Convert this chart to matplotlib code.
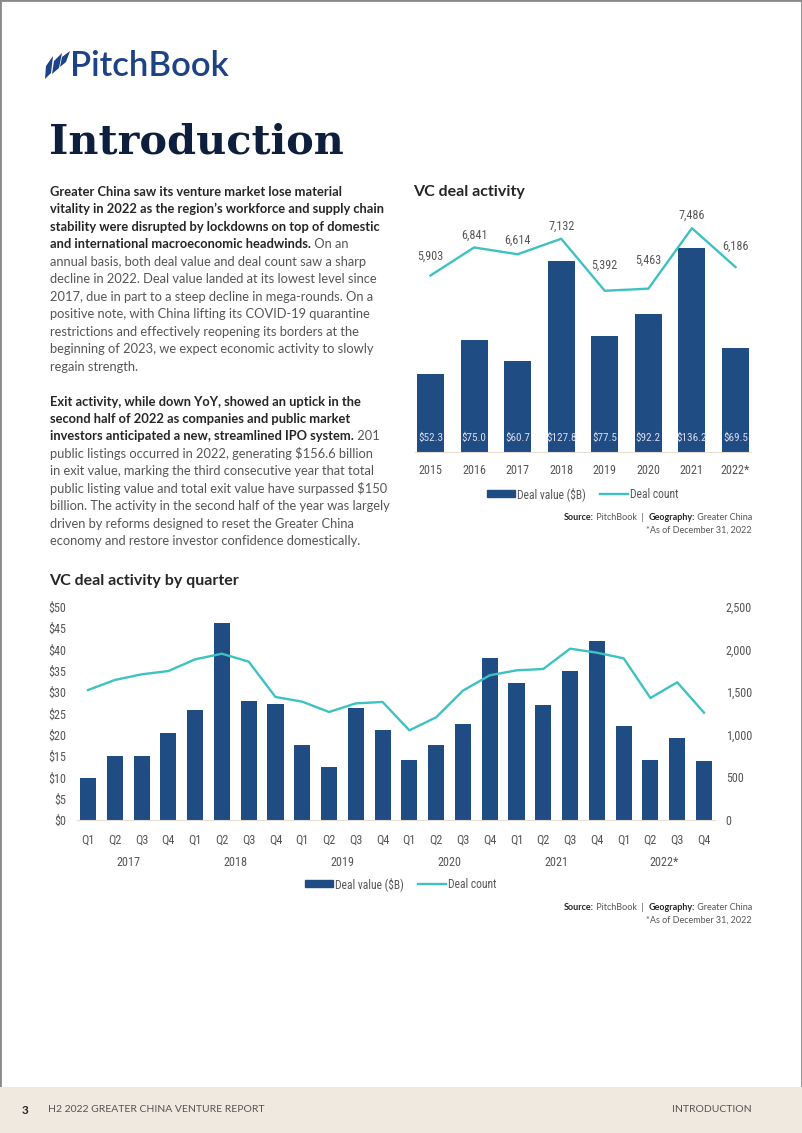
import numpy as np
import matplotlib.pyplot as plt
import matplotlib as mpl
from matplotlib import font_manager
from matplotlib.patches import Rectangle, Polygon
from matplotlib.lines import Line2D
from matplotlib.ticker import FuncFormatter

# ---- data ----
years = ['2015', '2016', '2017', '2018', '2019', '2020', '2021', '2022*']
year_value = [52.3, 75.0, 60.7, 127.8, 77.5, 92.2, 136.2, 69.5]
year_count = [5903, 6841, 6614, 7132, 5392, 5463, 7486, 6186]

quarter_names = ['Q1', 'Q2', 'Q3', 'Q4']
quarter_years = ['2017', '2018', '2019', '2020', '2021', '2022*']
quarter_value = [9.8, 15.1, 15.1, 20.3, 25.9, 46.2, 27.9, 27.3,
                 17.5, 12.5, 26.3, 21.0, 14.0, 17.5, 22.6, 37.9,
                 32.2, 27.0, 34.9, 42.0, 22.1, 14.0, 19.3, 13.9]
quarter_count = [1523, 1641, 1707, 1746, 1883, 1949, 1856, 1442,
                 1387, 1266, 1367, 1383, 1051, 1204, 1516, 1696,
                 1754, 1770, 2008, 1961, 1895, 1430, 1614, 1258]

# label nudges (px) for the annual count labels
count_dy = [19, 12, 14, 12, 26, 28, 13, 21]

W, H = 802, 1133
NAVY = '#1f4c83'
TEAL = '#3ec1c3'
GREY = '#555555'
DARK = '#262626'

names = {f.name for f in font_manager.fontManager.ttflist}
def pick(*cands):
    for c in cands:
        if c in names:
            return c
    return 'DejaVu Sans'

COND = pick('Liberation Sans Narrow', 'DejaVu Sans Condensed', 'Roboto Condensed')
BODY = pick('Lato', 'Open Sans', 'Noto Sans')
SERIF = pick('DejaVu Serif')
CS = 8.7  # condensed chart text size

fig = plt.figure(figsize=(W / 100, H / 100), dpi=100)
rend = fig.canvas.get_renderer()

def fx(x):
    return x / W

def fy(y):
    return 1 - y / H

def width(s, **kw):
    t = fig.text(0, 0, '|' + s + '|', **kw)
    t2 = fig.text(0, 0, '||', **kw)
    w = t.get_window_extent(rend).width - t2.get_window_extent(rend).width
    t.remove()
    t2.remove()
    return w

def runs(x, y, parts, ha='left', size=9, family=BODY):
    ws = [width(s, fontsize=size, family=family, fontweight=wt) for s, wt, c in parts]
    if ha == 'right':
        x = x - sum(ws)
    for (s, wt, c), w in zip(parts, ws):
        fig.text(fx(x), fy(y), s, fontsize=size, family=family, fontweight=wt,
                 color=c, ha='left', va='center')
        x += w

# ---- page frame + footer ----
fig.add_artist(Rectangle((0, 0), 1, 1, transform=fig.transFigure, fill=False,
                         edgecolor='#8a8a8a', lw=2))
fig.add_artist(Rectangle((0, 0), 1, 1 - 1087 / H, transform=fig.transFigure,
                         facecolor='#efe9df', edgecolor='none'))
fig.text(fx(22), fy(1110), '3', fontsize=8.5, family=BODY, fontweight='bold',
         color=DARK, va='center')
fig.text(fx(48), fy(1110), 'H2 2022 GREATER CHINA VENTURE REPORT', fontsize=7.5,
         family=BODY, color=GREY, va='center')
fig.text(fx(752), fy(1110), 'INTRODUCTION', fontsize=7.5, family=BODY, color=GREY,
         va='center', ha='right')

# ---- logo ----
blades = [[(45, 79), (46, 66), (53, 56), (51, 73)],
          [(52, 74), (54, 61), (62, 53), (59, 68)],
          [(60, 67), (62, 57), (70, 51), (66, 62)]]
for b in blades:
    fig.add_artist(Polygon([(fx(a), fy(c)) for a, c in b], closed=True,
                           transform=fig.transFigure, facecolor='#1d4386',
                           edgecolor='none'))
fig.text(fx(70), fy(66), 'PitchBook', fontsize=25, family=BODY, fontweight='semibold',
         color='#1d4386', va='center')

# ---- title ----
fig.text(fx(49), fy(143), 'Introduction', fontsize=29.8, family=SERIF,
         fontweight='bold', color='#0d1f3c', va='center')

# ---- body text ----
para1 = [
    [('Greater China saw its venture market lose material', 'bold', DARK)],
    [('vitality in 2022 as the region\u2019s workforce and supply chain', 'bold', DARK)],
    [('stability were disrupted by lockdowns on top of domestic', 'bold', DARK)],
    [('and international macroeconomic headwinds.', 'bold', DARK), (' On an', 'normal', GREY)],
    [('annual basis, both deal value and deal count saw a sharp', 'normal', GREY)],
    [('decline in 2022. Deal value landed at its lowest level since', 'normal', GREY)],
    [('2017, due in part to a steep decline in mega-rounds. On a', 'normal', GREY)],
    [('positive note, with China lifting its COVID-19 quarantine', 'normal', GREY)],
    [('restrictions and effectively reopening its borders at the', 'normal', GREY)],
    [('beginning of 2023, we expect economic activity to slowly', 'normal', GREY)],
    [('regain strength.', 'normal', GREY)],
]
para2 = [
    [('Exit activity, while down YoY, showed an uptick in the', 'bold', DARK)],
    [('second half of 2022 as companies and public market', 'bold', DARK)],
    [('investors anticipated a new, streamlined IPO system.', 'bold', DARK), (' 201', 'normal', GREY)],
    [('public listings occurred in 2022, generating \\$156.6 billion', 'normal', GREY)],
    [('in exit value, marking the third consecutive year that total', 'normal', GREY)],
    [('public listing value and total exit value have surpassed \\$150', 'normal', GREY)],
    [('billion. The activity in the second half of the year was largely', 'normal', GREY)],
    [('driven by reforms designed to reset the Greater China', 'normal', GREY)],
    [('economy and restore investor confidence domestically.', 'normal', GREY)],
]
for i, parts in enumerate(para1):
    runs(50, 191.7 + 17.5 * i, parts, size=9.3)
for i, parts in enumerate(para2):
    runs(50, 401.7 + 17.4 * i, parts, size=9.3)

# ---- top chart: VC deal activity ----
fig.text(fx(413), fy(192), 'VC deal activity', fontsize=11.5, family=BODY,
         fontweight='bold', color=DARK, va='center')

ax1 = fig.add_axes([fx(415.25), fy(452), (750.75 - 415.25) / W, 250 / H])
x1 = np.arange(len(years))
ax1.bar(x1, year_value, width=0.62, color=NAVY, zorder=2)
ax1.set_xlim(-0.35, len(years) - 0.65)
ax1.set_ylim(0, 250 / 1.495)
for xi, v in zip(x1, year_value):
    ax1.text(xi, 14 / 1.495, '\\$%.1f' % v, ha='center', va='center', fontsize=8,
             family=COND, color='#dcdcee', zorder=3)
ax1b = ax1.twinx()
ax1b.plot(x1, year_count, color=TEAL, lw=1.7)
ax1b.set_ylim(0, 250 / 0.0299)
for xi, c, d in zip(x1, year_count, count_dy):
    ax1b.annotate('{:,}'.format(c), (xi, c), xytext=(0, d * 0.72),
                  textcoords='offset points', ha='center', va='center',
                  fontsize=CS, family=COND, color=GREY)
for a in (ax1, ax1b):
    for s in a.spines.values():
        s.set_visible(False)
    a.set_yticks([])
ax1.spines['bottom'].set_visible(True)
ax1.spines['bottom'].set_color('#e6ddd5')
ax1.set_xticks(x1)
ax1.set_xticklabels(years, fontsize=CS, family=COND, color=GREY)
ax1.tick_params(axis='x', length=0, pad=8.5)

h1 = [Rectangle((0, 0), 1, 1, color=NAVY), Line2D([], [], color=TEAL, lw=1.7)]
fig.legend(h1, ['Deal value (\\$B)', 'Deal count'], loc='center',
           bbox_to_anchor=(fx(583), fy(494)), ncol=2, frameon=False,
           prop={'family': COND, 'size': 8.3}, labelcolor=GREY,
           handlelength=2.4, handleheight=0.55, handletextpad=0.2, columnspacing=1.2)
runs(752, 517, [('Source:', 'bold', DARK), (' PitchBook  |  ', 'normal', GREY),
                ('Geography:', 'bold', DARK), (' Greater China', 'normal', GREY)],
     ha='right', size=6.5)
runs(752, 530, [('*As of December 31, 2022', 'normal', GREY)], ha='right', size=6.5)

# ---- bottom chart: VC deal activity by quarter ----
fig.text(fx(49), fy(581), 'VC deal activity by quarter', fontsize=11.5, family=BODY,
         fontweight='bold', color=DARK, va='center')

ax2 = fig.add_axes([fx(77.3), fy(820), (714.7 - 77.3) / W, (820 - 606.7) / H])
x2 = np.arange(len(quarter_value))
ax2.bar(x2, quarter_value, width=0.6, color=NAVY, zorder=2)
ax2.set_xlim(-0.4, len(x2) - 0.6)
ax2.set_ylim(0, 50)
ax2.set_yticks(np.arange(0, 51, 5))
ax2.yaxis.set_major_formatter(FuncFormatter(lambda v, p: '$%d' % v))
ax2b = ax2.twinx()
ax2b.plot(x2, quarter_count, color=TEAL, lw=1.7)
ax2b.set_ylim(0, 2500)
ax2b.set_yticks(np.arange(0, 2501, 500))
ax2b.yaxis.set_major_formatter(FuncFormatter(lambda v, p: '{:,}'.format(int(v))))
for a in (ax2, ax2b):
    for s in a.spines.values():
        s.set_visible(False)
    a.tick_params(length=0, labelsize=CS, labelcolor=GREY, pad=8)
    for lab in a.get_yticklabels():
        lab.set_family(COND)
ax2.spines['bottom'].set_visible(True)
ax2.spines['bottom'].set_color('#e6ddd5')
ax2.set_xticks(x2)
ax2.set_xticklabels(quarter_names * len(quarter_years), family=COND)
ax2.tick_params(axis='x', pad=10)
for i, yr in enumerate(quarter_years):
    ax2.text(4 * i + 1.5, -42 / 213.3, yr, transform=ax2.get_xaxis_transform(),
             ha='center', va='center', fontsize=CS, family=COND, color=GREY,
             clip_on=False)

h2 = [Rectangle((0, 0), 1, 1, color=NAVY), Line2D([], [], color=TEAL, lw=1.7)]
fig.legend(h2, ['Deal value (\\$B)', 'Deal count'], loc='center',
           bbox_to_anchor=(fx(401), fy(884)), ncol=2, frameon=False,
           prop={'family': COND, 'size': 8.3}, labelcolor=GREY,
           handlelength=2.4, handleheight=0.55, handletextpad=0.2, columnspacing=1.2)
runs(752, 908, [('Source:', 'bold', DARK), (' PitchBook  |  ', 'normal', GREY),
                ('Geography:', 'bold', DARK), (' Greater China', 'normal', GREY)],
     ha='right', size=6.5)
runs(752, 920, [('*As of December 31, 2022', 'normal', GREY)], ha='right', size=6.5)

fig.savefig('out.png', dpi=100)
